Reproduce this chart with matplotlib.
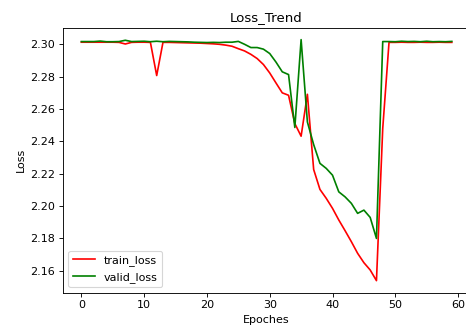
import matplotlib
matplotlib.use("Agg")
import matplotlib.pyplot as plt

# エポックごとの損失
epochs = list(range(60))

train_loss = [
    2.3013, 2.3013, 2.3013, 2.3013, 2.3013, 2.3013, 2.3012, 2.3002, 2.3012, 2.3013,
    2.3013, 2.3012, 2.2807, 2.3012, 2.3012, 2.3011, 2.3010, 2.3009, 2.3008, 2.3007,
    2.3005, 2.3003, 2.3000, 2.2995, 2.2988, 2.2973, 2.2959, 2.2938, 2.2912, 2.2875,
    2.2823, 2.2761, 2.2700, 2.2685, 2.2510, 2.2432, 2.2691, 2.2226, 2.2103, 2.2048,
    2.1986, 2.1914, 2.1848, 2.1780, 2.1708, 2.1650, 2.1605, 2.1539, 2.2480, 2.3012,
    2.3012, 2.3013, 2.3012, 2.3012, 2.3013, 2.3012, 2.3012, 2.3013, 2.3012, 2.3012,
]

valid_loss = [
    2.3017, 2.3017, 2.3017, 2.3020, 2.3016, 2.3016, 2.3017, 2.3025, 2.3017, 2.3018,
    2.3019, 2.3016, 2.3019, 2.3016, 2.3018, 2.3017, 2.3016, 2.3015, 2.3013, 2.3012,
    2.3011, 2.3012, 2.3011, 2.3013, 2.3013, 2.3018, 2.3000, 2.2980, 2.2980, 2.2970,
    2.2943, 2.2890, 2.2830, 2.2813, 2.2486, 2.3029, 2.2520, 2.2380, 2.2264, 2.2233,
    2.2191, 2.2088, 2.2057, 2.2017, 2.1955, 2.1975, 2.1930, 2.1800, 2.3017, 2.3017,
    2.3016, 2.3019, 2.3017, 2.3018, 2.3016, 2.3019, 2.3016, 2.3017, 2.3016, 2.3018,
]

fig = plt.figure(figsize=(5.825, 4.1375), dpi=80)
# 元画像は右端が切れているので軸を少しはみ出させる
ax = fig.add_axes([0.1348, 0.1157, 0.8745, 0.801])

ax.plot(epochs, train_loss, color="red", label="train_loss")
ax.plot(epochs, valid_loss, color="green", label="valid_loss")

ax.spines["right"].set_visible(False)

ax.set_title("Loss_Trend")
ax.set_xlabel("Epoches")
ax.set_ylabel("Loss")
ax.legend(loc="lower left")

fig.savefig("out.png", dpi=80)
